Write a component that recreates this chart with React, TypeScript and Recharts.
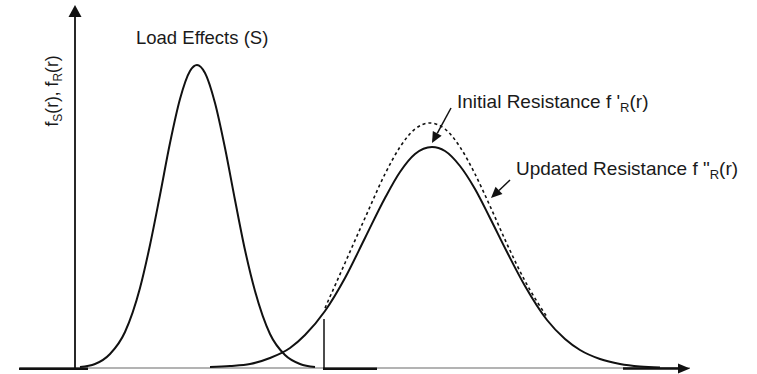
import { ComposedChart, Line, XAxis, YAxis, ReferenceLine, ReferenceDot } from "recharts";

// r positions and densities
const loadR = [80, 95, 110, 125, 140, 150, 160, 170, 180, 190, 197, 205, 215, 225, 235, 245, 255, 270, 285, 300, 315];
const loadDensity = [1, 4, 14, 36, 80, 123, 173, 225, 269, 297, 303, 295, 265, 220, 168, 118, 77, 34, 13, 4, 1];

const updatedR = [210, 230, 250, 270, 290, 305, 325, 345, 365, 385, 400, 415, 432, 445, 460, 475, 490, 507, 525, 547, 565, 580, 600, 620, 640, 660];
const updatedDensity = [1, 2, 4, 10, 20, 33, 57, 90, 130, 170, 196, 214, 221, 217, 202, 179, 150, 116, 82, 48, 29, 18, 9, 4, 1.5, 0.5];

const initialR = [325, 345, 365, 385, 400, 415, 430, 445, 460, 475, 490, 507, 525, 547];
const initialDensity = [60, 105, 150, 194, 221, 239, 245, 239, 221, 194, 162, 124, 87, 51];

const labels = {
  load: "Load Effects (S)",
  initial: "Initial Resistance f '",
  updated: "Updated Resistance f \"",
};

const loadData = loadR.map((r, i) => ({ r, f: loadDensity[i] }));
const updatedData = updatedR.map((r, i) => ({ r, f: updatedDensity[i] }));
const initialData = initialR.map((r, i) => ({ r, f: initialDensity[i] }));

const FONT = "'Liberation Sans', Arial, sans-serif";
const INK = "#111";

const arrow = (len: number, half: number, width: number, color: string) => (p: any) => {
  const { x1, y1, x2, y2 } = p;
  const dx = x2 - x1;
  const dy = y2 - y1;
  const d = Math.hypot(dx, dy) || 1;
  const ux = dx / d;
  const uy = dy / d;
  const bx = x2 - ux * len;
  const by = y2 - uy * len;
  const px = -uy * half;
  const py = ux * half;
  return (
    <g>
      <line x1={x1} y1={y1} x2={bx} y2={by} stroke={color} strokeWidth={width} />
      <polygon points={`${x2},${y2} ${bx + px},${by + py} ${bx - px},${by - py}`} fill={color} />
    </g>
  );
};

const plainLine = (width: number, color: string) => (p: any) => (
  <line x1={p.x1} y1={p.y1} x2={p.x2} y2={p.y2} stroke={color} strokeWidth={width} />
);

const textAt = (content: any, size: number, rotate = false) => (p: any) => (
  <text
    x={p.cx}
    y={p.cy}
    fontFamily={FONT}
    fontSize={size}
    fill="#1a1a1a"
    textAnchor={rotate ? "middle" : "start"}
    transform={rotate ? `rotate(-90 ${p.cx} ${p.cy})` : undefined}
  >
    {content}
  </text>
);

export default function App() {
  return (
    <div style={{ position: "absolute", left: 0, top: 0 }}>
      <ComposedChart width={757} height={374} margin={{ top: 0, right: 0, bottom: 6, left: 0 }}>
        <XAxis type="number" dataKey="r" domain={[0, 757]} hide allowDataOverflow />
        <YAxis type="number" domain={[0, 368]} hide allowDataOverflow />

        {/* horizontal axis: thin grey rule with darker stretches */}
        <ReferenceLine ifOverflow="visible" segment={[{ x: 20, y: 0 }, { x: 690, y: 0 }]} shape={plainLine(1.5, "#9a9a9a")} />
        <ReferenceLine ifOverflow="visible" segment={[{ x: 19, y: -0.8 }, { x: 88, y: -0.8 }]} shape={plainLine(2.5, INK)} />
        <ReferenceLine ifOverflow="visible" segment={[{ x: 323, y: -0.8 }, { x: 377, y: -0.8 }]} shape={plainLine(2.5, INK)} />
        <ReferenceLine ifOverflow="visible" segment={[{ x: 623, y: -0.5 }, { x: 690, y: -0.5 }]} shape={arrow(12, 5, 2.5, INK)} />

        {/* vertical axis */}
        <ReferenceLine ifOverflow="visible" segment={[{ x: 75, y: 0 }, { x: 75, y: 363 }]} shape={arrow(12, 6.5, 1.8, INK)} />

        {/* marker line */}
        <ReferenceLine ifOverflow="visible" segment={[{ x: 324, y: 0 }, { x: 324, y: 49 }]} shape={plainLine(1.5, INK)} />

        <Line data={loadData} dataKey="f" type="monotone" stroke={INK} strokeWidth={2} dot={false} activeDot={false} isAnimationActive={false} />
        <Line data={updatedData} dataKey="f" type="monotone" stroke={INK} strokeWidth={2} dot={false} activeDot={false} isAnimationActive={false} />
        <Line
          data={initialData}
          dataKey="f"
          type="monotone"
          stroke={INK}
          strokeWidth={1.6}
          strokeDasharray="3 3"
          dot={false}
          activeDot={false}
          isAnimationActive={false}
        />

        {/* annotation arrows */}
        <ReferenceLine ifOverflow="visible" segment={[{ x: 451, y: 260 }, { x: 432, y: 225 }]} shape={arrow(11, 5, 1.5, INK)} />
        <ReferenceLine ifOverflow="visible" segment={[{ x: 510, y: 188 }, { x: 491, y: 170 }]} shape={arrow(11, 5, 1.5, INK)} />

        <ReferenceDot ifOverflow="visible" x={136} y={324} r={1} shape={textAt(labels.load, 18.5)} />
        <ReferenceDot
          ifOverflow="visible"
          x={457}
          y={260}
          r={1}
          shape={textAt(
            <>
              <tspan>{labels.initial}</tspan>
              <tspan fontSize={13} dy={4}>R</tspan>
              <tspan dy={-4}>(r)</tspan>
            </>,
            19
          )}
        />
        <ReferenceDot
          ifOverflow="visible"
          x={516}
          y={193}
          r={1}
          shape={textAt(
            <>
              <tspan>{labels.updated}</tspan>
              <tspan fontSize={13} dy={4}>R</tspan>
              <tspan dy={-4}>(r)</tspan>
            </>,
            19
          )}
        />
        <ReferenceDot
          ifOverflow="visible"
          x={58}
          y={277}
          r={1}
          shape={textAt(
            <>
              <tspan>f</tspan>
              <tspan fontSize={12} dy={4}>S</tspan>
              <tspan dy={-4}>(r), f</tspan>
              <tspan fontSize={12} dy={4}>R</tspan>
              <tspan dy={-4}>(r)</tspan>
            </>,
            17.5,
            true
          )}
        />
      </ComposedChart>
    </div>
  );
}
